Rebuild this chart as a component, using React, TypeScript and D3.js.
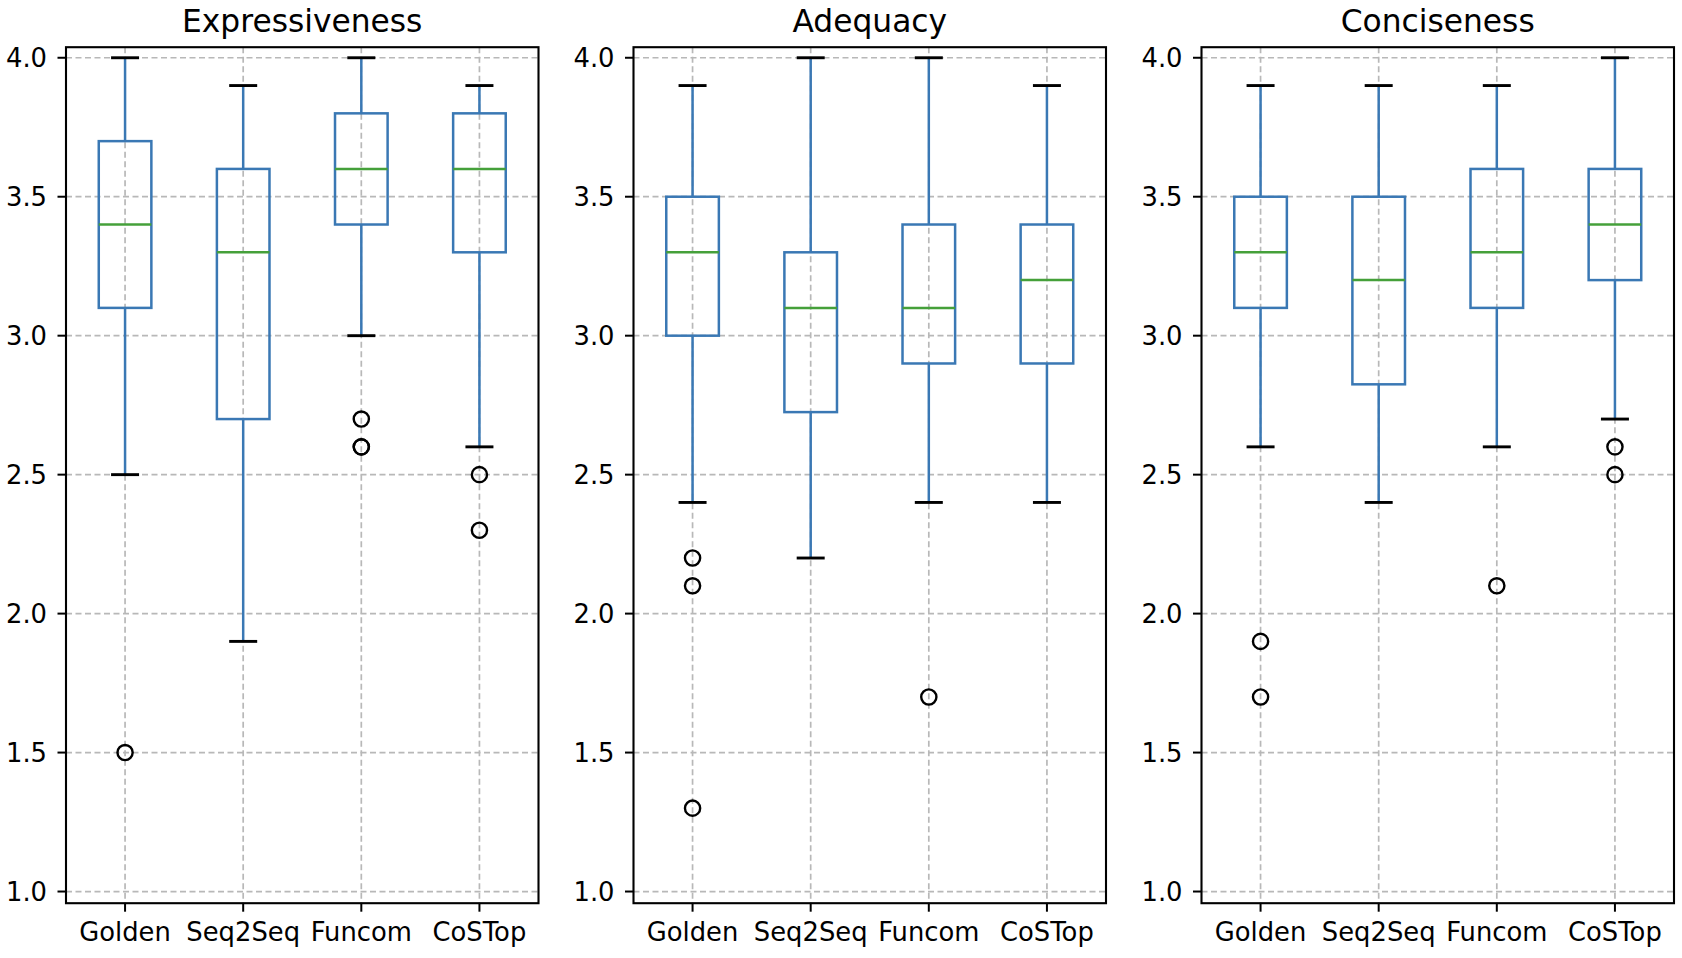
import React from "react";
import * as d3 from "d3";

// ---- data ----
const models = ["Golden", "Seq2Seq", "Funcom", "CoSTop"];
const metrics = ["Expressiveness", "Adequacy", "Conciseness"];
const yTicks = [1.0, 1.5, 2.0, 2.5, 3.0, 3.5, 4.0];

// [whiskerLow, Q1, median, Q3, whiskerHigh] per model
const expressivenessStats = [
  [2.5, 3.1, 3.4, 3.7, 4.0],
  [1.9, 2.7, 3.3, 3.6, 3.9],
  [3.0, 3.4, 3.6, 3.8, 4.0],
  [2.6, 3.3, 3.6, 3.8, 3.9],
];
const expressivenessOutliers = [[1.5], [], [2.7, 2.6, 2.6], [2.5, 2.3]];

const adequacyStats = [
  [2.4, 3.0, 3.3, 3.5, 3.9],
  [2.2, 2.725, 3.1, 3.3, 4.0],
  [2.4, 2.9, 3.1, 3.4, 4.0],
  [2.4, 2.9, 3.2, 3.4, 3.9],
];
const adequacyOutliers = [[2.2, 2.1, 1.3], [], [1.7], []];

const concisenessStats = [
  [2.6, 3.1, 3.3, 3.5, 3.9],
  [2.4, 2.825, 3.2, 3.5, 3.9],
  [2.6, 3.1, 3.3, 3.6, 3.9],
  [2.7, 3.2, 3.4, 3.6, 4.0],
];
const concisenessOutliers = [[1.9, 1.7], [], [2.1], [2.6, 2.5]];

const allStats = [expressivenessStats, adequacyStats, concisenessStats];
const allOutliers = [expressivenessOutliers, adequacyOutliers, concisenessOutliers];

// ---- layout ----
const W = 1682;
const H = 958;
const panelLefts = [66, 633.5, 1201.5];
const panelWidth = 472.5;
const top = 47.2;
const bottom = 903.2;

const BLUE = "#3a78b4";
const GREEN = "#45a03a";
const GRID = "#b8b8b8";
const FONT = "DejaVu Sans, Verdana, sans-serif";

const y = d3.scaleLinear().domain([0.958, 4.038]).range([bottom, top]);

function Panel({ idx }: { idx: number }) {
  const left = panelLefts[idx];
  const x = d3
    .scalePoint<string>()
    .domain(models)
    .range([left, left + panelWidth])
    .padding(0.5);
  const stats = allStats[idx];
  const outs = allOutliers[idx];
  const boxHalf = 26.3;
  const capHalf = 14;
  return (
    <g>
      <text
        x={left + panelWidth / 2}
        y={32}
        textAnchor="middle"
        fontSize={31.3}
        fontFamily={FONT}
        fill="#000"
      >
        {metrics[idx]}
      </text>
      {yTicks.map((t) => (
        <line
          key={"gy" + t}
          x1={left}
          x2={left + panelWidth}
          y1={y(t)}
          y2={y(t)}
          stroke={GRID}
          strokeWidth={1.7}
          strokeDasharray="6,3.5"
        />
      ))}
      {models.map((m) => (
        <line
          key={"gx" + m}
          x1={x(m)}
          x2={x(m)}
          y1={top}
          y2={bottom}
          stroke={GRID}
          strokeWidth={1.7}
          strokeDasharray="6,3.5"
        />
      ))}
      {models.map((m, i) => {
        const [lo, q1, med, q3, hi] = stats[i];
        const cx = x(m) as number;
        return (
          <g key={"b" + m}>
            <line x1={cx} x2={cx} y1={y(q3)} y2={y(hi)} stroke={BLUE} strokeWidth={2.5} />
            <line x1={cx} x2={cx} y1={y(q1)} y2={y(lo)} stroke={BLUE} strokeWidth={2.5} />
            <line x1={cx - capHalf} x2={cx + capHalf} y1={y(hi)} y2={y(hi)} stroke="#000" strokeWidth={2.9} />
            <line x1={cx - capHalf} x2={cx + capHalf} y1={y(lo)} y2={y(lo)} stroke="#000" strokeWidth={2.9} />
            <rect
              x={cx - boxHalf}
              y={y(q3)}
              width={boxHalf * 2}
              height={y(q1) - y(q3)}
              fill="none"
              stroke={BLUE}
              strokeWidth={2.5}
            />
            <line x1={cx - boxHalf} x2={cx + boxHalf} y1={y(med)} y2={y(med)} stroke={GREEN} strokeWidth={2.5} />
            {outs[i].map((o, k) => (
              <circle key={k} cx={cx} cy={y(o)} r={7.6} fill="none" stroke="#000" strokeWidth={2.4} />
            ))}
          </g>
        );
      })}
      <rect
        x={left}
        y={top}
        width={panelWidth}
        height={bottom - top}
        fill="none"
        stroke="#000"
        strokeWidth={2.1}
      />
      {yTicks.map((t) => (
        <g key={"yt" + t}>
          <line x1={left - 8.5} x2={left} y1={y(t)} y2={y(t)} stroke="#000" strokeWidth={2} />
          <text
            x={left - 19}
            y={y(t) + 9.3}
            textAnchor="end"
            fontSize={25.8}
            fontFamily={FONT}
            fill="#000"
          >
            {d3.format(".1f")(t)}
          </text>
        </g>
      ))}
      {models.map((m) => (
        <g key={"xt" + m}>
          <line x1={x(m)} x2={x(m)} y1={bottom} y2={bottom + 8.5} stroke="#000" strokeWidth={2} />
          <text
            x={x(m)}
            y={940.7}
            textAnchor="middle"
            fontSize={25.8}
            fontFamily={FONT}
            fill="#000"
          >
            {m}
          </text>
        </g>
      ))}
    </g>
  );
}

export default function App() {
  return (
    <svg
      width={W}
      height={H}
      viewBox={`0 0 ${W} ${H}`}
      style={{ position: "absolute", left: 0, top: 0, background: "#fff" }}
    >
      <rect x={0} y={0} width={W} height={H} fill="#fff" />
      {metrics.map((_, i) => (
        <Panel key={i} idx={i} />
      ))}
    </svg>
  );
}
